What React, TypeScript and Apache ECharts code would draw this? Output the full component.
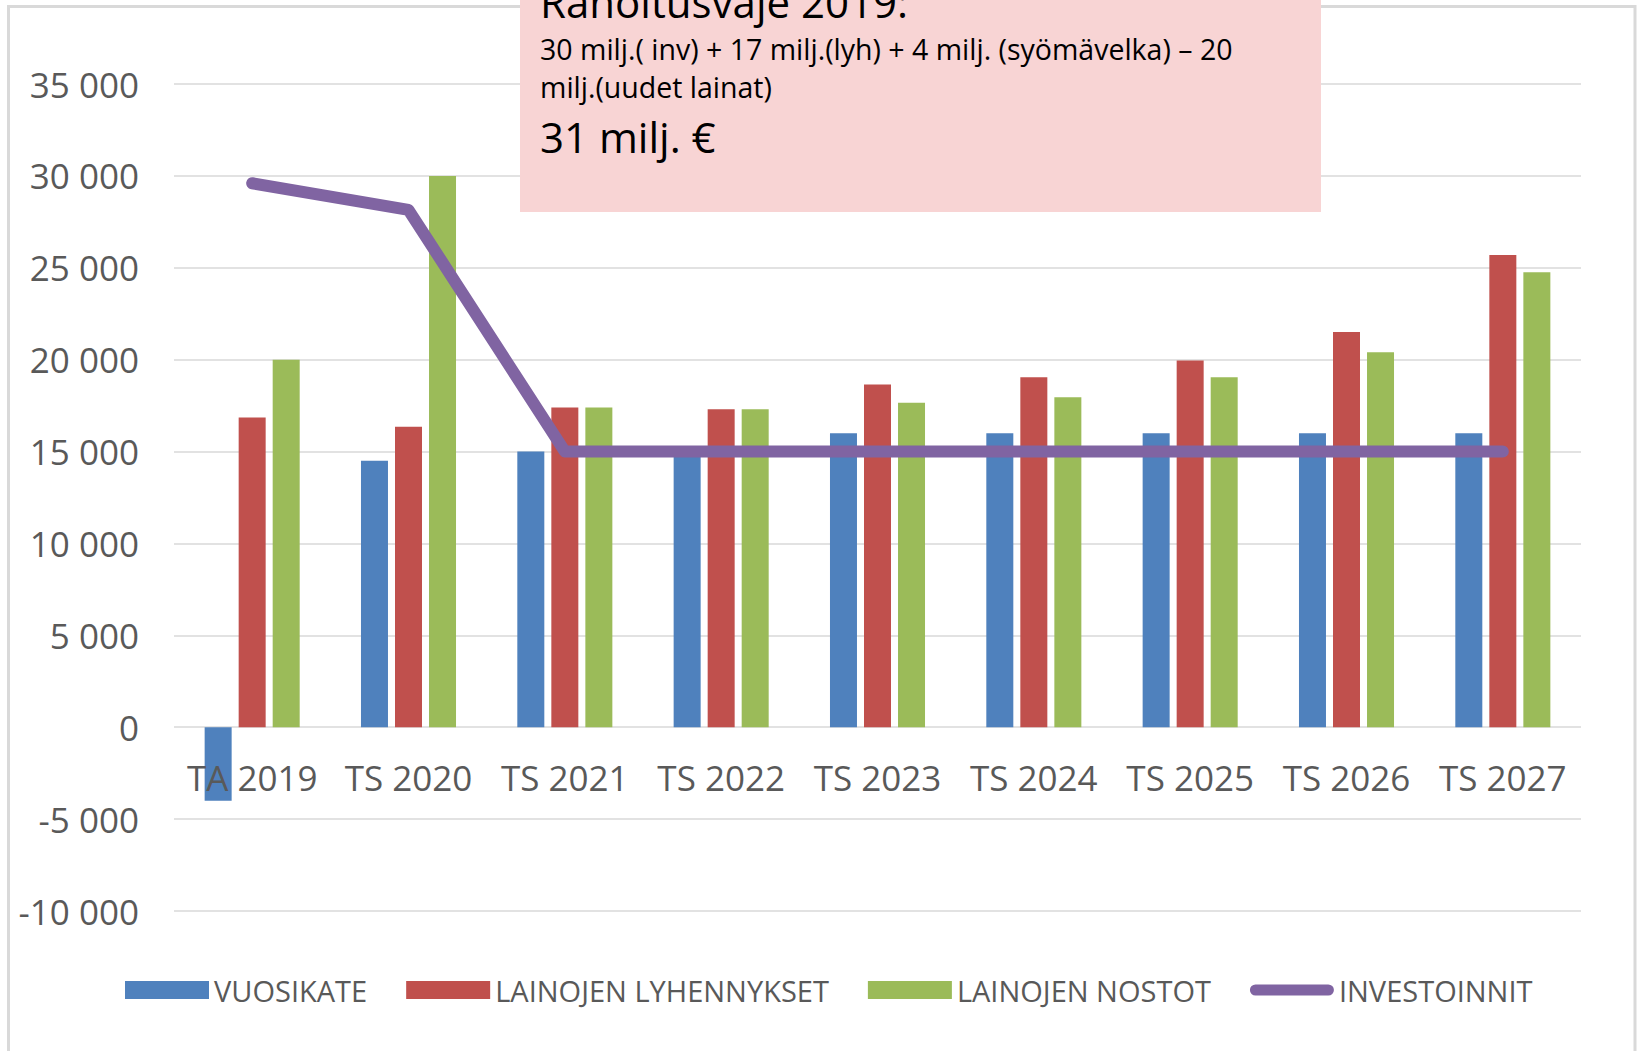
import React, { useEffect, useRef } from "react";
import * as echarts from "echarts";

const categories = ["TA 2019", "TS 2020", "TS 2021", "TS 2022", "TS 2023", "TS 2024", "TS 2025", "TS 2026", "TS 2027"];
const vuosikate = [-4000, 14500, 15000, 15000, 16000, 16000, 16000, 16000, 16000];
const lyhennykset = [16850, 16350, 17400, 17300, 18650, 19050, 19950, 21500, 25700];
const nostot = [20000, 30000, 17400, 17300, 17650, 17950, 19050, 20400, 24750];
const investoinnit = [29600, 28150, 15000, 15000, 15000, 15000, 15000, 15000, 15000];
const seriesNames = ["VUOSIKATE", "LAINOJEN LYHENNYKSET", "LAINOJEN NOSTOT", "INVESTOINNIT"];
const boxLines = [
  "Rahoitusvaje 2019:",
  "30 milj.( inv) + 17 milj.(lyh) + 4 milj. (syömävelka) – 20",
  "milj.(uudet lainat)",
  "31 milj. €",
];

const FONT = "'Open Sans', 'DejaVu Sans', sans-serif";

export default function App() {
  const ref = useRef<HTMLDivElement>(null);
  useEffect(() => {
    if (!ref.current) return;
    const chart = echarts.init(ref.current, null, { renderer: "svg" });
    const fmt = (v: number) => {
      const s = Math.abs(v).toString().replace(/\B(?=(\d{3})+(?!\d))/g, " ");
      return (v < 0 ? "-" : "") + s;
    };
    chart.setOption({
      animation: false,
      backgroundColor: "#ffffff",
      textStyle: { fontFamily: FONT },
      grid: { left: 174, right: 59, top: 84, bottom: 140, containLabel: false },
      legend: {
        left: 120,
        top: 967,
        itemWidth: 84,
        itemHeight: 18,
        itemGap: 39,
        textStyle: { fontSize: 29, color: "#595959", fontFamily: FONT, lineHeight: 36 },
        data: [
          { name: seriesNames[0], icon: "rect" },
          { name: seriesNames[1], icon: "rect" },
          { name: seriesNames[2], icon: "rect" },
          { name: seriesNames[3], icon: "path://M0,0M90,18M6,3L84,3A6,6,0,0,1,84,15L6,15A6,6,0,0,1,6,3Z" },
        ],
      },
      xAxis: {
        type: "category",
        data: categories,
        position: "bottom",
        offset: -184,
        z: 10,
        axisLine: { show: false, onZero: false },
        axisTick: { show: false },
        axisLabel: { interval: 0, fontSize: 35, color: "#595959", fontFamily: FONT, margin: 30, lineHeight: 40 },
      },
      yAxis: {
        type: "value",
        min: -10000,
        max: 35000,
        interval: 5000,
        axisLine: { show: false },
        axisTick: { show: false },
        splitLine: { lineStyle: { color: "#d9d9d9", width: 1.5 } },
        axisLabel: { fontSize: 35, color: "#595959", fontFamily: FONT, margin: 35, formatter: fmt },
      },
      series: [
        { name: seriesNames[0], type: "bar", data: vuosikate, barWidth: 27, barGap: "26%", itemStyle: { color: "#4f81bd" } },
        { name: seriesNames[1], type: "bar", data: lyhennykset, barWidth: 27, barGap: "26%", itemStyle: { color: "#c0504d" } },
        { name: seriesNames[2], type: "bar", data: nostot, barWidth: 27, barGap: "26%", itemStyle: { color: "#9bbb59" } },
        {
          name: seriesNames[3],
          type: "line",
          data: investoinnit,
          symbol: "none",
          itemStyle: { color: "#8064a2" },
          lineStyle: { color: "#8064a2", width: 12, cap: "round", join: "round" },
          z: 5,
        },
      ],
      graphic: [
        {
          type: "rect",
          shape: { x: 8.5, y: 6.5, width: 1626.5, height: 1200 },
          style: { fill: "none", stroke: "#d9d9d9", lineWidth: 3 },
          z: 1,
          silent: true,
        },
        {
          type: "rect",
          shape: { x: 520, y: 0, width: 801, height: 212 },
          style: { fill: "#f8d4d4" },
          z: 20,
        },
        { type: "text", x: 540, y: 1, z: 21, style: { text: boxLines[0], font: `42px ${FONT}`, fill: "#000", verticalAlign: "middle" } },
        { type: "text", x: 540, y: 49, z: 21, style: { text: boxLines[1], font: `28.5px ${FONT}`, fill: "#000", verticalAlign: "middle" } },
        { type: "text", x: 540, y: 87, z: 21, style: { text: boxLines[2], font: `28.5px ${FONT}`, fill: "#000", verticalAlign: "middle" } },
        { type: "text", x: 540, y: 136, z: 21, style: { text: boxLines[3], font: `42px ${FONT}`, fill: "#000", verticalAlign: "middle" } },
      ],
    });
    return () => chart.dispose();
  }, []);
  return <div ref={ref} style={{ position: "fixed", left: 0, top: 0, width: 1640, height: 1051 }} />;
}
